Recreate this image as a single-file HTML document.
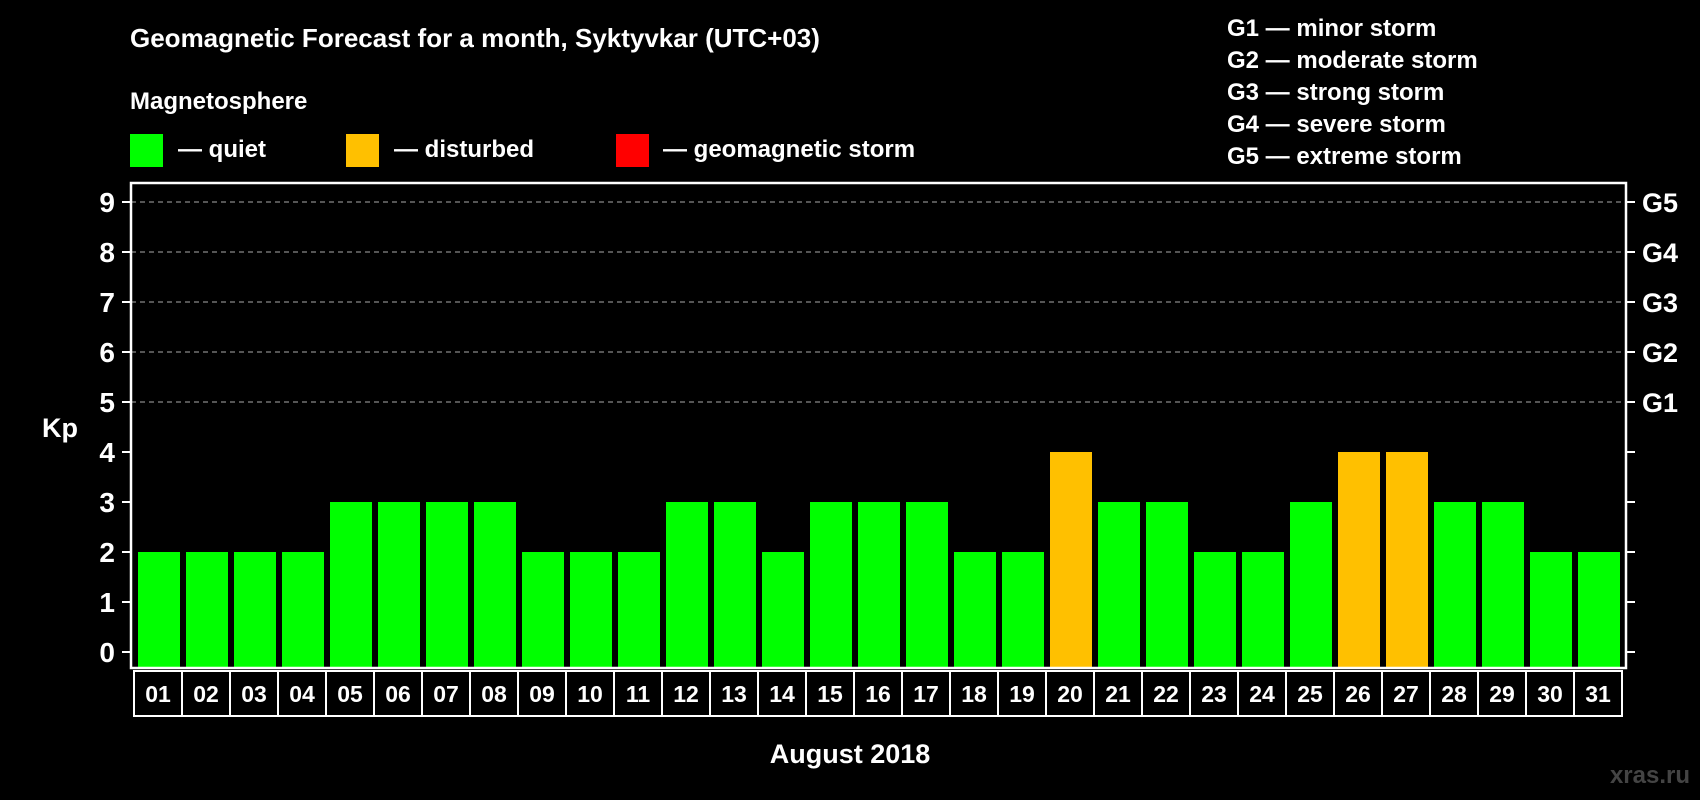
<!DOCTYPE html>
<html><head><meta charset="utf-8"><style>
html,body{margin:0;padding:0;background:#000;}
svg{display:block;font-family:"Liberation Sans",Arial,sans-serif;font-weight:bold;}
</style></head><body>
<svg id="chart" width="1700" height="800" viewBox="0 0 1700 800">
<rect width="1700" height="800" fill="#000"/>
<text x="130" y="47" fill="#fff" font-size="26">Geomagnetic Forecast for a month, Syktyvkar (UTC+03)</text>
<text x="130" y="109" fill="#fff" font-size="24">Magnetosphere</text>
<g><rect x="130" y="134" width="33" height="33" fill="#00ff00"/><text x="178" y="157" fill="#fff" font-size="24">— quiet</text></g>
<g><rect x="346" y="134" width="33" height="33" fill="#ffc000"/><text x="394" y="157" fill="#fff" font-size="24">— disturbed</text></g>
<g><rect x="616" y="134" width="33" height="33" fill="#ff0000"/><text x="663" y="157" fill="#fff" font-size="24">— geomagnetic storm</text></g>
<g fill="#fff" font-size="24">
<text x="1227" y="36">G1 — minor storm</text>
<text x="1227" y="68">G2 — moderate storm</text>
<text x="1227" y="100">G3 — strong storm</text>
<text x="1227" y="132">G4 — severe storm</text>
<text x="1227" y="164">G5 — extreme storm</text>
</g>
<text x="42" y="437" fill="#fff" font-size="27">Kp</text>
<text x="850" y="763" fill="#fff" font-size="27" text-anchor="middle">August 2018</text>
<text x="1690" y="783" fill="#444" font-size="24" text-anchor="end">xras.ru</text>
<g id="grid"></g><g id="bars"></g><g id="axes"></g><g id="days"></g>
</svg>
<script>
const days = ["01","02","03","04","05","06","07","08","09","10","11","12","13","14","15","16","17","18","19","20","21","22","23","24","25","26","27","28","29","30","31"];
const kpValues = [2,2,2,2,3,3,3,3,2,2,2,3,3,2,3,3,3,2,2,4,3,3,2,2,3,4,4,3,3,2,2];
const yTicks = [0,1,2,3,4,5,6,7,8,9];
const gLabels = ["G1","G2","G3","G4","G5"];
const NS="http://www.w3.org/2000/svg";
const L=131,R=1626,T=183,B=668,Y0=652,U=50,STEP=48,X0=134;
const y=v=>Y0-v*U;
const xs=i=>X0+i*STEP;
function mk(t,a,p){const e=document.createElementNS(NS,t);for(const k in a)e.setAttribute(k,a[k]);p.appendChild(e);return e;}
const grid=document.getElementById('grid'),bars=document.getElementById('bars'),axes=document.getElementById('axes'),dg=document.getElementById('days');
yTicks.forEach(v=>{
  if(v>=5){const g=mk('line',{x1:L,x2:R,y1:y(v),y2:y(v),stroke:'#888','stroke-dasharray':'5,4','stroke-width':1.2},grid);
  
  }
  mk('line',{x1:L-9,x2:L,y1:y(v),y2:y(v),stroke:'#fff','stroke-width':2},axes);
  mk('line',{x1:R,x2:R+9,y1:y(v),y2:y(v),stroke:'#fff','stroke-width':2},axes);
  const t=mk('text',{x:L-16,y:y(v)+10,fill:'#fff','font-size':28,'text-anchor':'end'},axes);
  t.textContent=v;
  
  
});
gLabels.forEach((g,i)=>{
  const t=mk('text',{x:R+16,y:y(5+i)+10,fill:'#fff','font-size':27},axes);
  t.textContent=g;
  
  
});
const f=mk('rect',{x:L,y:T,width:R-L,height:B-T,fill:'none',stroke:'#fff','stroke-width':2.5},axes);


kpValues.forEach((v,i)=>{
  const c=v>=5?'#ff0000':(v>=4?'#ffc000':'#00ff00');
  const b=mk('rect',{x:xs(i)+4,y:y(v),width:42,height:B-y(v),fill:c},bars);
  
  
});
days.forEach((d,i)=>{
  const c=mk('rect',{x:xs(i),y:671,width:STEP,height:45,fill:'none',stroke:'#fff','stroke-width':2},dg);
  
  
  const t=mk('text',{x:xs(i)+STEP/2,y:702,fill:'#fff','font-size':23,'text-anchor':'middle'},dg);
  t.textContent=d;
  
  
});
</script>
</body></html>
